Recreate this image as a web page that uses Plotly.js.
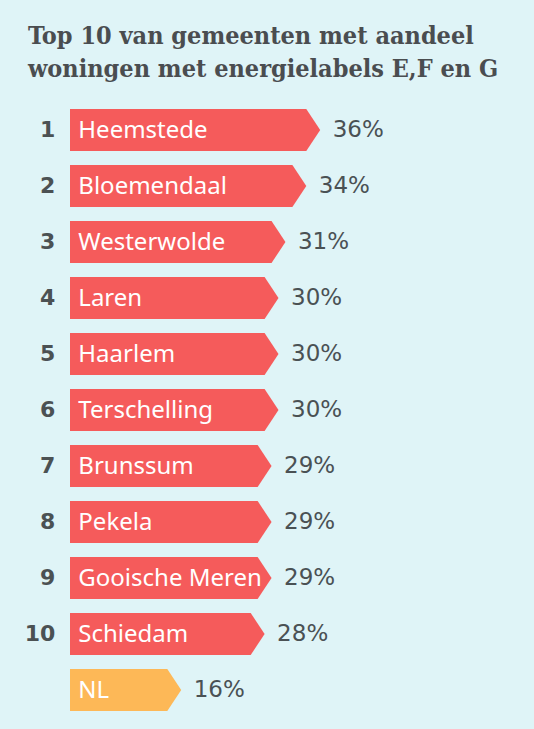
<!DOCTYPE html>
<html>
<head>
<meta charset="utf-8">
<script src="https://cdn.plot.ly/plotly-3.0.1.min.js"></script>
<style>
html,body{margin:0;padding:0;background:#dff4f7;}
#chart{width:534px;height:729px;}
</style>
</head>
<body>
<div id="chart"></div>
<script>
// Data
const ranks = ["1","2","3","4","5","6","7","8","9","10",""];
const names = ["Heemstede","Bloemendaal","Westerwolde","Laren","Haarlem","Terschelling","Brunssum","Pekela","Gooische Meren","Schiedam","NL"];
const values = [36,34,31,30,30,30,29,29,29,28,16];
const valueLabels = ["36%","34%","31%","30%","30%","30%","29%","29%","29%","28%","16%"];
const barColors = ["#f55b5b","#f55b5b","#f55b5b","#f55b5b","#f55b5b","#f55b5b","#f55b5b","#f55b5b","#f55b5b","#f55b5b","#fdb857"];
const titleText = "<b>Top 10 van gemeenten met aandeel<br>woningen met energielabels E,F en G</b>";

const textGray = "#4b5153";
const half = 0.375;   // half bar thickness (category units)
const point = 2.0;    // arrow point length (value units)

const traces = [];
values.forEach((v, i) => {
  traces.push({
    type: "scatter", mode: "lines", fill: "toself",
    x: [0, v - point, v, v - point, 0, 0],
    y: [i - half, i - half, i, i + half, i + half, i - half],
    line: {width: 0, color: barColors[i]},
    fillcolor: barColors[i],
    hoverinfo: "skip", showlegend: false
  });
});
const idx = values.map((v, i) => i + 0.03);
traces.push({
  type: "scatter", mode: "text",
  x: values.map(() => -2.1), y: idx, text: ranks,
  textposition: "middle left",
  textfont: {family: "DejaVu Sans, sans-serif", size: 22, color: textGray, weight: 700},
  hoverinfo: "skip", showlegend: false
});
traces.push({
  type: "scatter", mode: "text",
  x: values.map(() => 1.2), y: idx, text: names,
  textposition: "middle right",
  textfont: {family: "Noto Sans, sans-serif", size: 24, color: "#ffffff"},
  hoverinfo: "skip", showlegend: false
});
traces.push({
  type: "scatter", mode: "text",
  x: values.map(v => v + 1.8), y: idx, text: valueLabels,
  textposition: "middle right",
  textfont: {family: "DejaVu Sans, sans-serif", size: 23, color: "#4a5154"},
  hoverinfo: "skip", showlegend: false
});

const pxPerUnit = 6.95;
const layout = {
  width: 534, height: 729,
  margin: {l: 0, r: 0, t: 0, b: 0},
  paper_bgcolor: "#dff4f7", plot_bgcolor: "#dff4f7",
  annotations: [{
    text: titleText, showarrow: false,
    xref: "paper", yref: "paper",
    x: 25 / 534, xanchor: "left",
    y: 1 - 19 / 729, yanchor: "top", align: "left",
    font: {family: "DejaVu Serif Condensed, DejaVu Serif, serif", size: 25, color: "#4a4d50"}
  }],
  xaxis: {range: [-70 / pxPerUnit, (534 - 70) / pxPerUnit], visible: false, fixedrange: true},
  yaxis: {range: [(729 - 130) / 56, -130 / 56], visible: false, fixedrange: true},
  showlegend: false
};
Plotly.newPlot("chart", traces, layout, {displayModeBar: false, staticPlot: true});
</script>
</body>
</html>
